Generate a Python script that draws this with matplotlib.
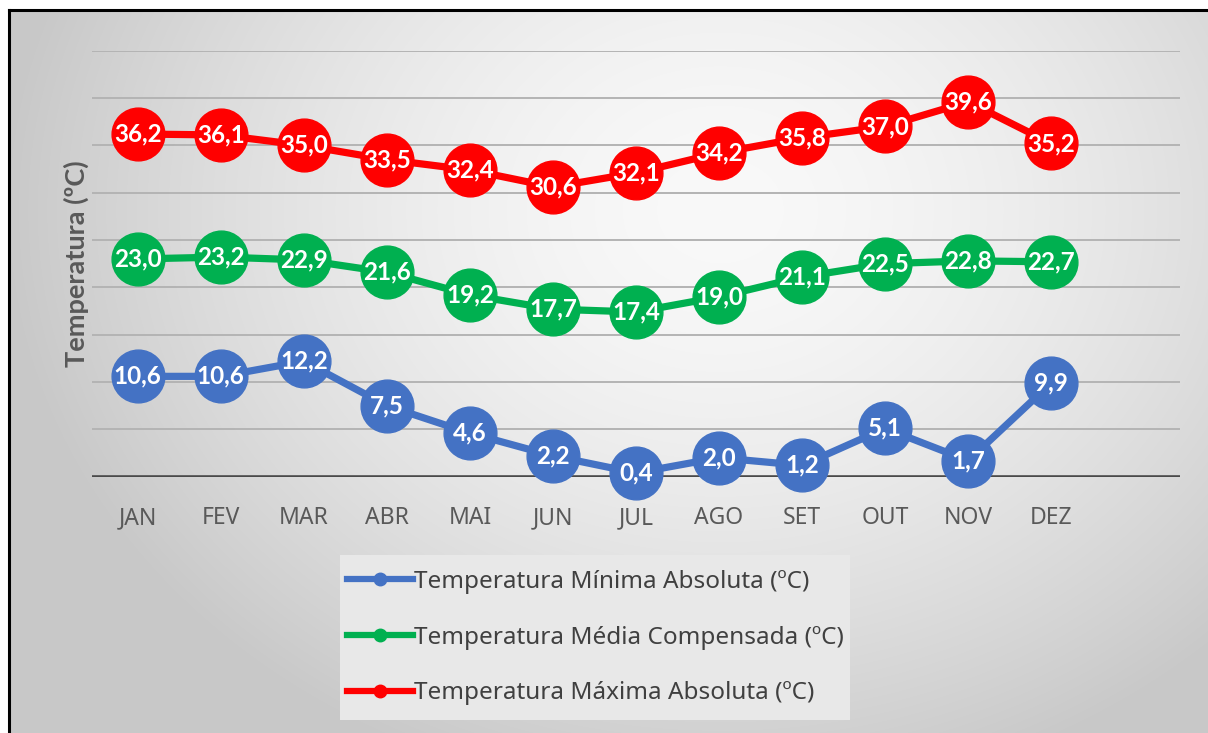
import numpy as np
import matplotlib
matplotlib.use("Agg")
import matplotlib.pyplot as plt
from matplotlib.lines import Line2D
from matplotlib.patches import Rectangle

plt.rcParams['font.family'] = ['Noto Sans', 'DejaVu Sans']

meses = ["JAN", "FEV", "MAR", "ABR", "MAI", "JUN", "JUL", "AGO", "SET", "OUT", "NOV", "DEZ"]
temp_min = [10.6, 10.6, 12.2, 7.5, 4.6, 2.2, 0.4, 2.0, 1.2, 5.1, 1.7, 9.9]
temp_med = [23.0, 23.2, 22.9, 21.6, 19.2, 17.7, 17.4, 19.0, 21.1, 22.5, 22.8, 22.7]
temp_max = [36.2, 36.1, 35.0, 33.5, 32.4, 30.6, 32.1, 34.2, 35.8, 37.0, 39.6, 35.2]

series = [
    ("Temperatura Mínima Absoluta (ºC)", temp_min, "#4472C4"),
    ("Temperatura Média Compensada (ºC)", temp_med, "#00B050"),
    ("Temperatura Máxima Absoluta (ºC)", temp_max, "#FF0000"),
]

W, H = 1208, 733
fig = plt.figure(figsize=(W / 100, H / 100), dpi=100)

# radial grey gradient behind the chart
bg = fig.add_axes([0, 0, 1, 1], zorder=-10)
yy, xx = np.mgrid[0:H, 0:W]
d = np.sqrt(((xx - 720) / 720.0) ** 2 + ((yy - 210) / 600.0) ** 2)
d = np.clip(d, 0, 1)
val = (249 - (249 - 200) * d ** 1.6) / 255.0
img = np.dstack([val, val, val])
img[:10, :, :] = 1.0
img[:, :8, :] = 1.0
bg.imshow(img, extent=[0, W, H, 0], aspect='auto', interpolation='bilinear')
bg.set_xlim(0, W)
bg.set_ylim(H, 0)
bg.axis('off')

# legend panel
bg.add_patch(Rectangle((340, 555), 510, 165, facecolor='#e8e8e8', edgecolor='none'))

# chart outer border (left and top edges visible)
fig.add_artist(Line2D([9 / W, 9 / W], [0, 1 - 10 / H], color='black', lw=2.2,
                      transform=fig.transFigure))
fig.add_artist(Line2D([9 / W, 1], [1 - 10 / H, 1 - 10 / H], color='black', lw=2.2,
                      transform=fig.transFigure))

left, right = 92, 1180
top, bottom = 50.7, 476.7
ax = fig.add_axes([left / W, 1 - bottom / H, (right - left) / W, (bottom - top) / H])
ax.set_facecolor('none')
ax.set_xlim(-0.55, 12.55)
ax.set_ylim(0, 45)

for y in range(5, 50, 5):
    ax.axhline(y, color='#b4b4b4', lw=1.4, zorder=1)
ax.axhline(0, color='#4a4a4a', lw=2.6, zorder=2)

x = np.arange(len(meses))
for nome, vals, cor in series:
    ax.plot(x, vals, color=cor, lw=5.2, marker='o', markersize=38,
            markerfacecolor=cor, markeredgecolor=cor, zorder=3, clip_on=False,
            solid_capstyle='round')
    for xi, v in zip(x, vals):
        ax.text(xi, v, f"{v:.1f}".replace('.', ','), ha='center', va='center',
                color='white', fontsize=17.5, fontweight='bold', zorder=4,
                family=['Lato', 'DejaVu Sans'])

for s in ax.spines.values():
    s.set_visible(False)
ax.set_yticks([])
ax.set_xticks(x)
ax.set_xticklabels(meses, color='#595959', fontsize=16.5)
ax.tick_params(axis='x', length=0, pad=21)
ax.set_ylabel("Temperatura (ºC)", color='#595959', fontsize=19.5, fontweight='bold',
              labelpad=2, family=['Lato', 'DejaVu Sans'])

handles = [Line2D([0], [0], color=c, lw=4.5, marker='o', markersize=9,
                  markerfacecolor=c, markeredgecolor=c) for _, _, c in series]
leg = fig.legend(handles, [n for n, _, _ in series], loc='upper left',
                 bbox_to_anchor=(347 / W, 1 - 570 / H), bbox_transform=fig.transFigure,
                 borderaxespad=0, frameon=False, fontsize=17.5,
                 handlelength=2.7, handletextpad=0.05, labelspacing=1.3,
                 borderpad=0, labelcolor='#404040')

fig.savefig("out.png", dpi=100)
